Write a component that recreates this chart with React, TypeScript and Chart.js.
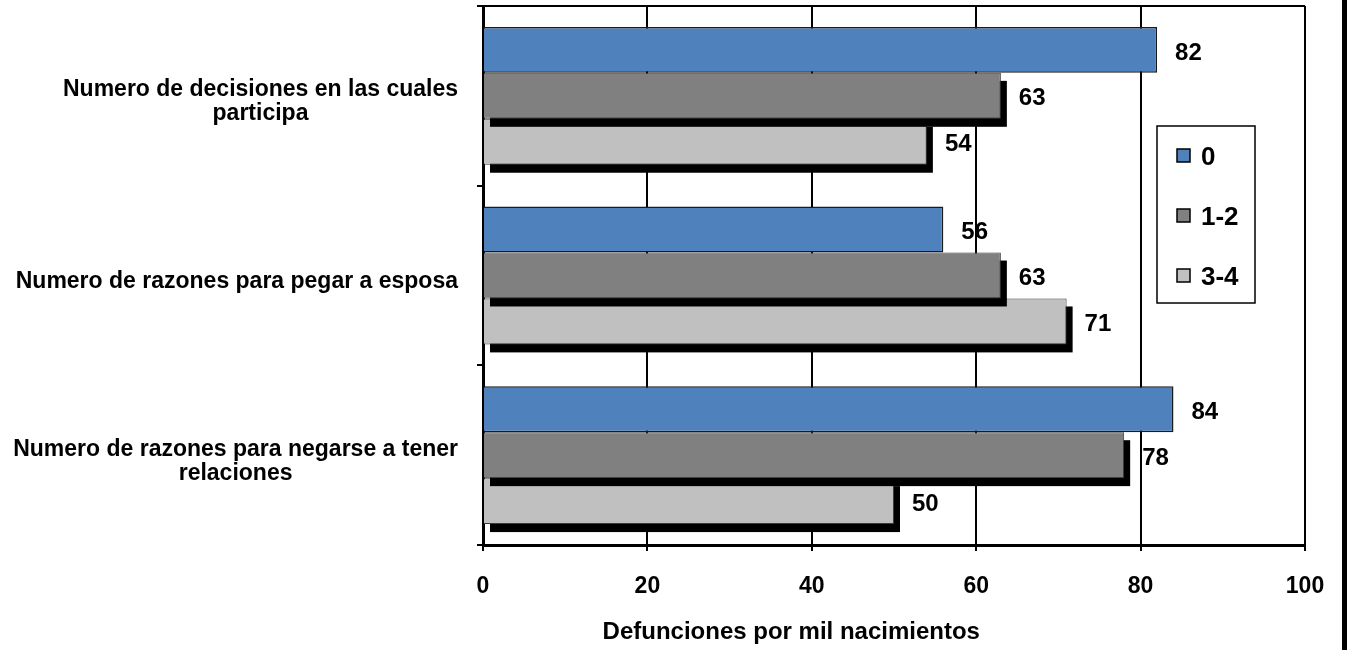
import React, { useEffect, useRef } from "react";
import { Chart, registerables } from "chart.js";

Chart.register(...registerables);

const categories = [
  ["Numero de decisiones en las cuales", "participa"],
  ["Numero de razones para pegar a esposa"],
  ["Numero de razones para negarse a tener", "relaciones"],
];
const seriesLabels = ["0", "1-2", "3-4"];
const values0 = [82, 56, 84];
const values12 = [63, 63, 78];
const values34 = [54, 71, 50];
const xTicks = [0, 20, 40, 60, 80, 100];
const xTitle = "Defunciones por mil nacimientos";
const seriesColors = ["#4F81BD", "#808080", "#C0C0C0"];

const FONT = "'Liberation Sans', Arial, Helvetica, sans-serif";

export default function App() {
  const ref = useRef<HTMLCanvasElement>(null);

  useEffect(() => {
    const canvas = ref.current!;
    const seriesValues = [values0, values12, values34];

    const shadowPlugin = {
      id: "barShadow",
      beforeDatasetDraw(chart: any, args: any) {
        if (args.index === 0) return;
        const meta = chart.getDatasetMeta(args.index);
        const ctx = chart.ctx;
        ctx.save();
        ctx.fillStyle = "#000";
        meta.data.forEach((el: any) => {
          const { x, y, base, height } = el.getProps(["x", "y", "base", "height"], true);
          ctx.fillRect(Math.min(base, x) + 6, y - height / 2 + 8, Math.abs(x - base), height);
        });
        ctx.restore();
      },
    };

    const labelsPlugin = {
      id: "valueLabels",
      afterDatasetsDraw(chart: any) {
        const ctx = chart.ctx;
        ctx.save();
        ctx.fillStyle = "#000";
        ctx.font = `bold 24px ${FONT}`;
        ctx.textAlign = "left";
        ctx.textBaseline = "middle";
        chart.data.datasets.forEach((ds: any, i: number) => {
          const meta = chart.getDatasetMeta(i);
          meta.data.forEach((el: any, j: number) => {
            const { x, y } = el.getProps(["x", "y"], true);
            ctx.fillText(String(ds.data[j]), x + 18, y + 3);
          });
        });
        ctx.restore();
      },
    };

    const categoryLabelPlugin = {
      id: "categoryLabels",
      afterDraw(chart: any) {
        const ctx = chart.ctx;
        const ys = chart.scales.y;
        ctx.save();
        ctx.fillStyle = "#000";
        ctx.font = `bold 23px ${FONT}`;
        ctx.textAlign = "center";
        ctx.textBaseline = "middle";
        (chart.data.labels as any[]).forEach((lab: any, i: number) => {
          const lines: string[] = Array.isArray(lab) ? lab : [lab];
          const widest = Math.max(...lines.map((l) => ctx.measureText(l).width));
          const cx = ys.right - 25 - widest / 2;
          const cy = ys.getPixelForTick(i) + 6;
          const lh = 24;
          lines.forEach((l, k) => ctx.fillText(l, cx, cy + (k - (lines.length - 1) / 2) * lh));
        });
        ctx.restore();
      },
    };

    const decorPlugin = {
      id: "decor",
      afterDraw(chart: any) {
        const ctx = chart.ctx;
        const a = chart.chartArea;
        ctx.save();
        // axis title
        ctx.fillStyle = "#000";
        ctx.font = `bold 24px ${FONT}`;
        ctx.textAlign = "center";
        ctx.textBaseline = "middle";
        ctx.fillText(xTitle, a.left + (a.right - a.left) * 0.375, 632);
        // legend
        const lx = a.right - 148;
        const ly = a.top + 120;
        ctx.fillStyle = "#fff";
        ctx.fillRect(lx, ly, 98, 177);
        ctx.strokeStyle = "#000";
        ctx.lineWidth = 1.5;
        ctx.strokeRect(lx, ly, 98, 177);
        chart.data.datasets.forEach((ds: any, i: number) => {
          const cy = ly + 30 + i * 60;
          ctx.fillStyle = ds.backgroundColor;
          ctx.fillRect(lx + 20, cy - 7, 13, 13);
          ctx.lineWidth = 1.5;
          ctx.strokeStyle = "#000";
          ctx.strokeRect(lx + 20, cy - 7, 13, 13);
          ctx.fillStyle = "#000";
          ctx.font = `bold 26px ${FONT}`;
          ctx.textAlign = "left";
          ctx.textBaseline = "middle";
          ctx.fillText(ds.label, lx + 44, cy + 2);
        });
        ctx.restore();
      },
    };

    const chart = new Chart(canvas, {
      type: "bar",
      data: {
        labels: categories as any,
        datasets: seriesLabels.map((label, i) => ({
          label,
          data: seriesValues[i],
          backgroundColor: seriesColors[i],
          borderColor: i === 0 ? "#1a1a1a" : "#3a3a3a",
          borderWidth: i === 0 ? 1.5 : 1,
          barPercentage: 1,
          categoryPercentage: 0.767,
        })),
      },
      options: {
        indexAxis: "y",
        responsive: false,
        animation: false,
        layout: { padding: { top: 6, right: 42, left: 0, bottom: 0 } },
        plugins: {
          legend: { display: false },
          tooltip: { enabled: false },
        },
        scales: {
          x: {
            type: "linear",
            min: 0,
            max: 100,
            position: "bottom",
            afterBuildTicks: (s: any) => {
              s.ticks = xTicks.map((v) => ({ value: v }));
            },
            grid: { color: "#000", lineWidth: 2, tickLength: 6, tickColor: "#000", tickWidth: 2 },
            border: { display: true, color: "#000", width: 3 },
            ticks: { padding: 22, color: "#000", font: { family: FONT, size: 23, weight: "bold" } },
            afterFit: (s: any) => {
              s.height = 105;
              s.paddingLeft = 0;
              s.paddingRight = 0;
            },
          },
          y: {
            type: "category",
            grid: {
              offset: true,
              drawOnChartArea: true,
              color: (c: any) => (c.index === 0 ? "#000" : "rgba(0,0,0,0)"),
              lineWidth: 2,
              tickColor: "#000",
              tickLength: 6,
              tickWidth: 2,
            },
            border: { display: true, color: "#000", width: 3 },
            ticks: { display: false },
            afterFit: (s: any) => {
              s.width = 483;
              s.paddingTop = 0;
              s.paddingBottom = 0;
            },
          },
        },
      } as any,
      plugins: [shadowPlugin, labelsPlugin, categoryLabelPlugin, decorPlugin],
    });

    return () => chart.destroy();
  }, []);

  return (
    <div style={{ position: "fixed", left: 0, top: 0, width: 1347, height: 650, background: "#fff" }}>
      <canvas ref={ref} width={1347} height={650} style={{ display: "block" }} />
      <div style={{ position: "absolute", left: 1342, top: 0, width: 5, height: 650, background: "#000" }} />
    </div>
  );
}
